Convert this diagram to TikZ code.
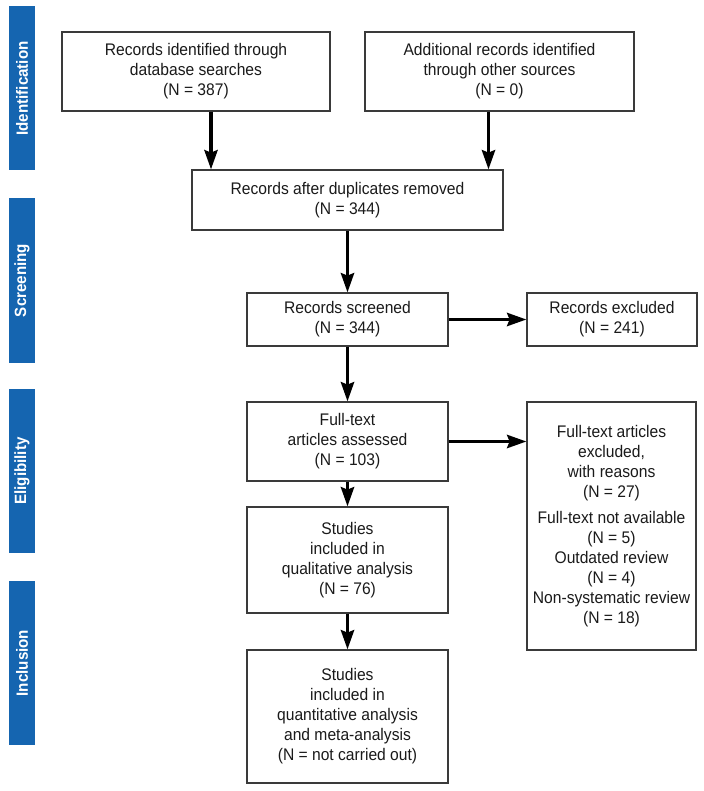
\documentclass[tikz,border=0pt]{standalone}
\usepackage{fontspec}
\setmainfont{Liberation Sans}[FakeStretch=0.93]
\usetikzlibrary{arrows.meta,calc}
\definecolor{cBar}{HTML}{1565B0}
\definecolor{cInk}{HTML}{1A1A1A}
\definecolor{cEdge}{HTML}{3A3A3A}

\begin{document}
\begin{tikzpicture}[
    x=0.75pt, y=-0.75pt,
    font=\fontsize{12.6}{15}\selectfont,
    >={Stealth[length=14.5pt,width=10pt,inset=2pt]},
    every node/.style={text=cInk},
    stage/.style={
        rectangle, fill=cBar, rotate=90, minimum width=123pt, minimum height=19.5pt,
        inner sep=0pt, text=white, font=\fontsize{12.2}{14}\selectfont\bfseries
    },
    record/.style={
        rectangle, draw=cEdge, line width=1pt, fill=white,
        align=center, inner sep=2pt
    },
    flow/.style={->, line width=2.3pt, draw=black},
]
\useasboundingbox (0,0) rectangle (703,791);

% =====================================================
% Stage bars on the left
% =====================================================

\node[stage] (barIdent)  at (22,88.5) {Identification};
\node[stage] (barScreen) at (22,280.5) {Screening};
\node[stage] (barElig)   at (22,471)  {Eligibility};
\node[stage] (barIncl)   at (22,663)  {Inclusion};

% =====================================================
% Identification
% =====================================================

\node[record, minimum width=201pt, minimum height=59.25pt] (ident) at (196,71.5)
    {Records identified through\\database searches\\(N = 387)};
\node[record, minimum width=201.75pt, minimum height=59.25pt] (other) at (499.5,71.5)
    {Additional records identified\\through other sources\\(N = 0)};
\node[record, minimum width=233.25pt, minimum height=45pt] (dedup) at (347.5,200)
    {Records after duplicates removed\\(N = 344)};

\coordinate (identOut) at ($(ident.south)+(15,0)$);
\coordinate (otherOut) at ($(other.south)+(-11,0)$);
\draw[flow] (identOut) -- (identOut |- dedup.north);
\draw[flow] (otherOut) -- (otherOut |- dedup.north);

% =====================================================
% Screening
% =====================================================

\node[record, minimum width=150.75pt, minimum height=39.75pt] (screen) at (347.5,319.5)
    {Records screened\\(N = 344)};
\node[record, minimum width=127.5pt, minimum height=39.75pt] (excl) at (612,319.5)
    {Records excluded\\(N = 241)};

\draw[flow] (dedup.south) -- (screen.north);
\draw[flow] (screen.east) -- (excl.west);

% =====================================================
% Eligibility
% =====================================================

\node[record, minimum width=150.75pt, minimum height=59.25pt] (full) at (347.5,441.5)
    {Full-text\\articles assessed\\(N = 103)};
\node[record, minimum width=126.75pt, minimum height=186pt] (fullexcl) at (611.5,526)
    {Full-text articles\\excluded,\\with reasons\\(N = 27)\\[5pt]
     Full-text not available\\(N = 5)\\Outdated review\\(N = 4)\\Non-systematic review\\(N = 18)};
\node[record, minimum width=150.75pt, minimum height=79.5pt] (qual) at (347.5,560)
    {Studies\\included in\\qualitative analysis\\(N = 76)};

\draw[flow] (screen.south) -- (full.north);
\draw[flow] (full.east) -- (full.east -| fullexcl.west);
\draw[flow] (full.south) -- (qual.north);

% =====================================================
% Inclusion
% =====================================================

\node[record, minimum width=150.75pt, minimum height=99.75pt] (quant) at (347.5,716.5)
    {Studies\\included in\\quantitative analysis\\and meta-analysis\\(N = not carried out)};

\draw[flow] (qual.south) -- (quant.north);

\end{tikzpicture}
\end{document}
